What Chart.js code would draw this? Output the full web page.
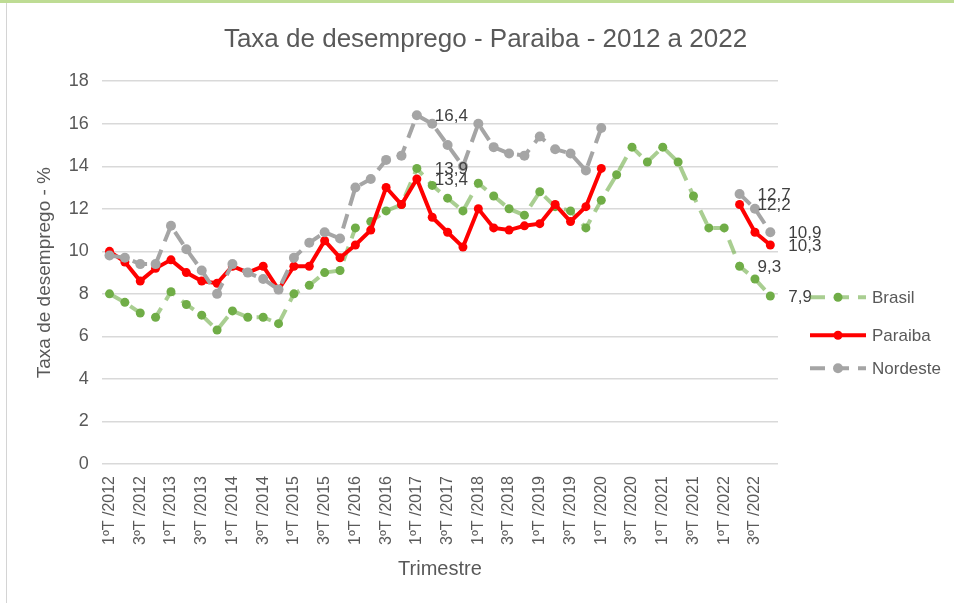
<!DOCTYPE html>
<html>
<head>
<meta charset="utf-8">
<script src="https://cdn.jsdelivr.net/npm/chart.js@4/dist/chart.umd.min.js"></script>
<style>
  html, body { margin: 0; padding: 0; background: #fff; }
  #wrap { position: relative; width: 954px; height: 603px; overflow: hidden; }
  #topbar { position: absolute; left: 0; top: 0; width: 954px; height: 3px; background: #BEDC94; }
  #leftbar { position: absolute; left: 6px; top: 3px; width: 1px; height: 600px; background: #D4D4D4; }
  canvas { position: absolute; left: 0; top: 0; }
</style>
</head>
<body>
<div id="wrap">
  <canvas id="c" width="954" height="603"></canvas>
  <div id="topbar"></div>
  <div id="leftbar"></div>
</div>
<script>
const quarters = [
  "1ºT /2012","2ºT /2012","3ºT /2012","4ºT /2012",
  "1ºT /2013","2ºT /2013","3ºT /2013","4ºT /2013",
  "1ºT /2014","2ºT /2014","3ºT /2014","4ºT /2014",
  "1ºT /2015","2ºT /2015","3ºT /2015","4ºT /2015",
  "1ºT /2016","2ºT /2016","3ºT /2016","4ºT /2016",
  "1ºT /2017","2ºT /2017","3ºT /2017","4ºT /2017",
  "1ºT /2018","2ºT /2018","3ºT /2018","4ºT /2018",
  "1ºT /2019","2ºT /2019","3ºT /2019","4ºT /2019",
  "1ºT /2020","2ºT /2020","3ºT /2020","4ºT /2020",
  "1ºT /2021","2ºT /2021","3ºT /2021","4ºT /2021",
  "1ºT /2022","2ºT /2022","3ºT /2022","4ºT /2022"
];

const brasil = [
  8.0, 7.6, 7.1, 6.9,
  8.1, 7.5, 7.0, 6.3,
  7.2, 6.9, 6.9, 6.6,
  8.0, 8.4, 9.0, 9.1,
  11.1, 11.4, 11.9, 12.2,
  13.9, 13.1, 12.5, 11.9,
  13.2, 12.6, 12.0, 11.7,
  12.8, 12.1, 11.9, 11.1,
  12.4, 13.6, 14.9, 14.2,
  14.9, 14.2, 12.6, 11.1,
  11.1, 9.3, 8.7, 7.9
];

const paraiba = [
  10.0, 9.5, 8.6, 9.2,
  9.6, 9.0, 8.6, 8.5,
  9.3, 9.0, 9.3, 8.2,
  9.3, 9.3, 10.5, 9.7,
  10.3, 11.0, 13.0, 12.2,
  13.4, 11.6, 10.9, 10.2,
  12.0, 11.1, 11.0, 11.2,
  11.3, 12.2, 11.4, 12.1,
  13.9, null, null, null,
  null, null, null, null,
  null, 12.2, 10.9, 10.3
];

const nordeste = [
  9.8, 9.7, 9.4, 9.4,
  11.2, 10.1, 9.1, 8.0,
  9.4, 9.0, 8.7, 8.2,
  9.7, 10.4, 10.9, 10.6,
  13.0, 13.4, 14.3, 14.5,
  16.4, 16.0, 15.0, 14.0,
  16.0, 14.9, 14.6, 14.5,
  15.4, 14.8, 14.6, 13.8,
  15.8, null, null, null,
  null, null, null, null,
  null, 12.7, 12.0, 10.9
];

const seriesNames = ["Brasil", "Paraiba", "Nordeste"];
const labeledIndexes = [20, 41, 43];
const yTicks = [0, 2, 4, 6, 8, 10, 12, 14, 16, 18];

const FONT = "'Liberation Sans', Arial, sans-serif";
const TXT = "#595959";

const dataLabelPlugin = {
  id: 'valueLabels',
  afterDatasetsDraw(chart) {
    const ctx = chart.ctx;
    ctx.save();
    ctx.font = "17px " + FONT;
    ctx.fillStyle = "#404040";
    ctx.textAlign = "left";
    ctx.textBaseline = "middle";
    chart.data.datasets.forEach((ds, di) => {
      const meta = chart.getDatasetMeta(di);
      labeledIndexes.forEach(i => {
        const v = ds.data[i];
        if (v === null || v === undefined) return;
        const pt = meta.data[i];
        ctx.fillText(v.toFixed(1).replace('.', ','), pt.x + 18, pt.y + 1);
      });
    });
    ctx.restore();
  }
};

const legendPlugin = {
  id: 'sideLegend',
  afterDraw(chart) {
    const ctx = chart.ctx;
    const a = chart.chartArea;
    const x0 = a.right + 32;
    const ys = [a.top + 216, a.top + 254, a.top + 287];
    ctx.save();
    chart.data.datasets.forEach((ds, di) => {
      const y = ys[di];
      ctx.beginPath();
      ctx.setLineDash(ds.borderDash || []);
      ctx.lineWidth = ds.borderWidth;
      ctx.strokeStyle = ds.borderColor;
      ctx.lineCap = 'butt';
      ctx.moveTo(x0, y);
      ctx.lineTo(x0 + 56, y);
      ctx.stroke();
      ctx.setLineDash([]);
      ctx.beginPath();
      ctx.fillStyle = ds.pointBackgroundColor;
      ctx.arc(x0 + 28, y, ds.pointRadius, 0, Math.PI * 2);
      ctx.fill();
      ctx.font = "17px " + FONT;
      ctx.fillStyle = TXT;
      ctx.textAlign = 'left';
      ctx.textBaseline = 'middle';
      ctx.fillText(ds.label, x0 + 62, y + 1);
    });
    ctx.restore();
  }
};

new Chart(document.getElementById('c'), {
  type: 'line',
  data: {
    labels: quarters,
    datasets: [
      {
        label: seriesNames[0], data: brasil, order: 3, yAxisID: 'y',
        borderColor: 'rgba(112,173,71,0.6)', borderWidth: 4, borderDash: [15, 9],
        pointBackgroundColor: '#70AD47', pointBorderColor: '#70AD47',
        pointRadius: 4.5, pointBorderWidth: 0, tension: 0, spanGaps: false
      },
      {
        label: seriesNames[1], data: paraiba, order: 2, yAxisID: 'y',
        borderColor: '#FF0000', borderWidth: 4,
        pointBackgroundColor: '#FF0000', pointBorderColor: '#FF0000',
        pointRadius: 4.5, pointBorderWidth: 0, tension: 0, spanGaps: false
      },
      {
        label: seriesNames[2], data: nordeste, order: 1, yAxisID: 'y',
        borderColor: '#A5A5A5', borderWidth: 4, borderDash: [15, 9],
        pointBackgroundColor: '#A5A5A5', pointBorderColor: '#A5A5A5',
        pointRadius: 5, pointBorderWidth: 0, tension: 0, spanGaps: false
      }
    ]
  },
  options: {
    responsive: false,
    animation: false,
    events: [],
    layout: { padding: { left: 33, right: 16, top: 0, bottom: 18 } },
    plugins: {
      legend: { display: false },
      tooltip: { enabled: false },
      title: {
        display: true,
        text: 'Taxa de desemprego - Paraiba - 2012 a 2022',
        color: TXT,
        font: { family: FONT, size: 26, weight: 'normal' },
        padding: { top: 24, bottom: 26 }
      }
    },
    scales: {
      x: {
        offset: true,
        grid: { display: false },
        border: { display: false },
        ticks: {
          autoSkip: false,
          maxRotation: 90, minRotation: 90,
          color: TXT,
          padding: 4,
          font: { family: FONT, size: 16 },
          callback: (v, i) => (i % 2 === 0 ? quarters[i] : '')
        },
        title: {
          display: true, text: 'Trimestre', color: TXT,
          font: { family: FONT, size: 20 }, padding: { top: 8, bottom: 4 }
        }
      },
      y: {
        position: 'left',
        min: 0, max: 18,
        afterBuildTicks: (s) => { s.ticks = yTicks.map(v => ({ value: v })); },
        grid: { color: '#D9D9D9', lineWidth: 1.5, drawTicks: false },
        border: { display: false },
        ticks: { color: TXT, padding: 13, font: { family: FONT, size: 18 } },
        title: {
          display: true, text: 'Taxa de desemprego - %', color: TXT,
          font: { family: FONT, size: 19 }, padding: { top: 0, bottom: 0 }
        }
      },
      legendSpace: {
        type: 'linear',
        position: 'right',
        display: true,
        grid: { display: false },
        border: { display: false },
        ticks: { display: false },
        afterFit: (s) => { s.width = 160; }
      }
    }
  },
  plugins: [dataLabelPlugin, legendPlugin]
});
</script>
</body>
</html>
